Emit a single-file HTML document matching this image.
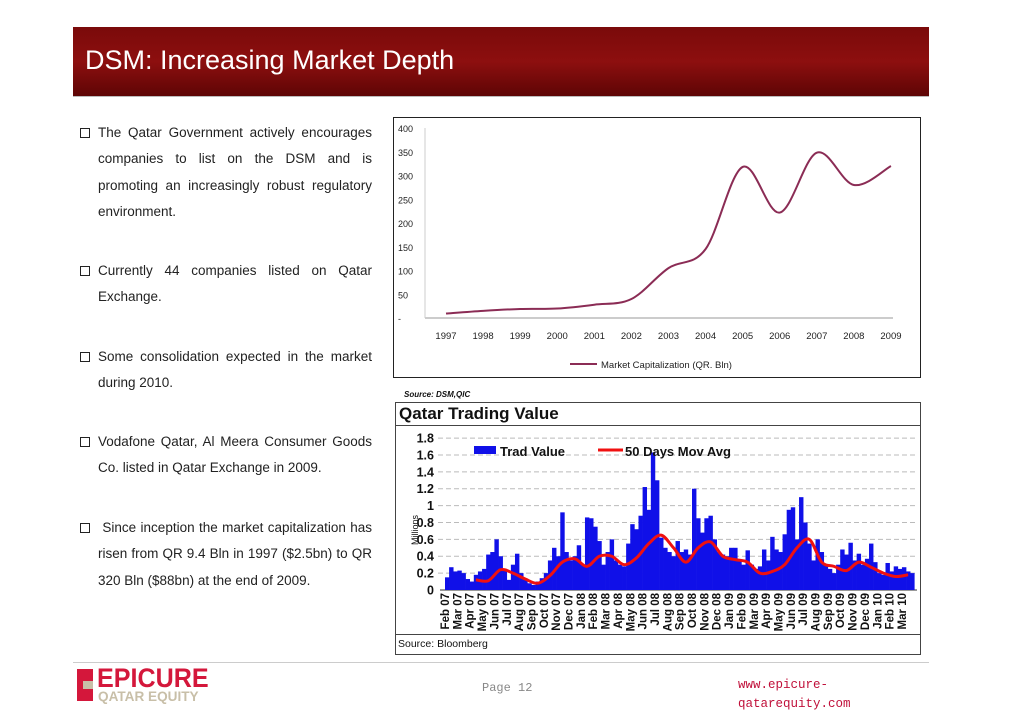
<!DOCTYPE html>
<html><head><meta charset="utf-8"><style>
body{margin:0;width:1023px;height:723px;background:#fff;position:relative;overflow:hidden;font-family:"Liberation Sans",sans-serif}
.abs{position:absolute}
.hdr{left:73px;top:27px;width:856px;height:69px;background:linear-gradient(180deg,#7a0a0a 0%,#8d0f0f 50%,#5e0505 100%)}
.hdr span{position:absolute;left:12px;top:18px;color:#fff;font-size:27px}
.bl{left:80px;width:292px;font-family:"Liberation Sans Narrow","Liberation Sans",sans-serif;font-size:13.5px;color:#222;line-height:26.3px}
.bl .cb{position:absolute;left:0;top:8px;width:8px;height:8px;border:1px solid #222}
.bl div.l{margin-left:18px;text-align:justify;text-align-last:justify;white-space:nowrap;height:26.3px}
.bl div.e{margin-left:18px;text-align:left;height:26.3px}
</style></head><body>
<div class="abs hdr"><span>DSM: Increasing Market Depth</span></div>
<div class="abs" style="left:73px;top:96px;width:856px;height:1px;background:#bbb"></div>

<div class="abs bl" style="top:120px"><div class="cb"></div><div class="l">The Qatar Government actively encourages</div><div class="l">companies to list on the DSM and is</div><div class="l">promoting an increasingly robust regulatory</div><div class="e">environment.</div></div>
<div class="abs bl" style="top:258px"><div class="cb"></div><div class="l">Currently 44 companies listed on Qatar</div><div class="e">Exchange.</div></div>
<div class="abs bl" style="top:344px"><div class="cb"></div><div class="l">Some consolidation expected in the market</div><div class="e">during 2010.</div></div>
<div class="abs bl" style="top:429px"><div class="cb"></div><div class="l">Vodafone Qatar, Al Meera Consumer Goods</div><div class="e">Co. listed in Qatar Exchange in 2009.</div></div>
<div class="abs bl" style="top:515px"><div class="cb"></div><div class="l">&nbsp;Since inception the market capitalization has</div><div class="l">risen from QR 9.4 Bln in 1997 ($2.5bn) to QR</div><div class="e">320 Bln ($88bn) at the end of 2009.</div></div>

<svg class="abs" style="left:0;top:0" width="1023" height="723">
<g id="top"></g>
<g id="bot"></g>
</svg>

<div class="abs" style="left:73px;top:662px;width:856px;height:1px;background:#ccc"></div>
<div class="abs" style="left:77px;top:669px;width:16px;height:32px;background:#d4173b"><div style="position:absolute;left:6px;top:12px;width:10px;height:8px;background:#c8bfa8"></div></div>
<div class="abs" style="left:97px;top:665px;font-size:27px;line-height:27px;font-weight:bold;color:#d4173b;transform:scaleX(0.93);transform-origin:left">EPICURE</div>
<div class="abs" style="left:98px;top:689px;font-size:14px;line-height:14px;font-weight:bold;color:#c8bfa8;transform:scaleX(0.97);transform-origin:left">QATAR EQUITY</div>
<div class="abs" style="left:482px;top:681px;font-family:'Liberation Mono',monospace;font-size:12px;color:#888">Page 12</div>
<div class="abs" style="left:738px;top:676px;font-family:'Liberation Mono',monospace;font-size:12.5px;color:#c0103a;line-height:19px">www.epicure-<br>qatarequity.com</div>

<script>
const NS="http://www.w3.org/2000/svg";
function mk(p,t,a,txt){const e=document.createElementNS(NS,t);for(const k in a)e.setAttribute(k,a[k]);if(txt!=null)e.textContent=txt;p.appendChild(e);return e;}

// ---- Top chart data ----
const capYears=["1997","1998","1999","2000","2001","2002","2003","2004","2005","2006","2007","2008","2009"];
const capValues=[9.4,15,19,20,28,40,105,145,318,222,348,280,320];
const capTicks=[0,50,100,150,200,250,300,350,400];

// ---- Bottom chart data ----
const tvMonths=["Feb 07","Mar 07","Apr 07","May 07","Jun 07","Jul 07","Aug 07","Sep 07","Oct 07","Nov 07","Dec 07","Jan 08","Feb 08","Mar 08","Apr 08","May 08","Jun 08","Jul 08","Aug 08","Sep 08","Oct 08","Nov 08","Dec 08","Jan 09","Feb 09","Mar 09","Apr 09","May 09","Jun 09","Jul 09","Aug 09","Sep 09","Oct 09","Nov 09","Dec 09","Jan 10","Feb 10","Mar 10"];
const tvValues=[0.15,0.27,0.22,0.23,0.2,0.13,0.1,0.18,0.22,0.25,0.42,0.45,0.6,0.4,0.25,0.12,0.3,0.43,0.2,0.12,0.08,0.06,0.1,0.14,0.2,0.35,0.5,0.4,0.92,0.45,0.35,0.4,0.53,0.3,0.86,0.85,0.75,0.58,0.3,0.45,0.6,0.35,0.3,0.28,0.55,0.78,0.72,0.88,1.22,0.95,1.63,1.3,0.62,0.5,0.45,0.4,0.58,0.45,0.48,0.42,1.2,0.85,0.68,0.85,0.88,0.6,0.45,0.42,0.4,0.5,0.5,0.35,0.3,0.47,0.3,0.25,0.28,0.48,0.35,0.63,0.48,0.45,0.66,0.95,0.98,0.6,1.1,0.8,0.55,0.35,0.6,0.45,0.3,0.25,0.2,0.3,0.48,0.42,0.56,0.35,0.43,0.3,0.37,0.55,0.33,0.2,0.18,0.32,0.22,0.28,0.25,0.27,0.22,0.2];
const maValues=[0.12,0.11,0.24,0.2,0.13,0.08,0.17,0.33,0.37,0.28,0.4,0.4,0.3,0.38,0.55,0.65,0.5,0.33,0.5,0.57,0.4,0.36,0.33,0.2,0.22,0.3,0.5,0.6,0.33,0.28,0.23,0.33,0.27,0.2,0.16,0.18];
const maStart=2; // MA begins at Apr 07
const tvTicks=["0","0.2","0.4","0.6","0.8","1","1.2","1.4","1.6","1.8"];

function smooth(pts){let d="M"+pts[0][0]+","+pts[0][1];for(let i=0;i<pts.length-1;i++){const p0=pts[Math.max(0,i-1)],p1=pts[i],p2=pts[i+1],p3=pts[Math.min(pts.length-1,i+2)];const c1=[p1[0]+(p2[0]-p0[0])/6,p1[1]+(p2[1]-p0[1])/6],c2=[p2[0]-(p3[0]-p1[0])/6,p2[1]-(p3[1]-p1[1])/6];d+=" C"+c1+" "+c2+" "+p2;}return d;}

// Top chart
(function(){
const g=document.getElementById('top');
mk(g,'rect',{x:393.5,y:117.5,width:527,height:260,fill:'#fff',stroke:'#222','stroke-width':1});
const y=v=>318-v*0.475, x=i=>446+i*37.08;
mk(g,'line',{x1:425,y1:318,x2:893,y2:318,stroke:'#999'});
mk(g,'line',{x1:425,y1:128,x2:425,y2:318,stroke:'#ccc'});
capTicks.forEach(t=>{const e=mk(g,'text',{x:398,y:y(t)+4,'font-size':9,fill:'#222'},t===0?'-':String(t));});
capYears.forEach((yr,i)=>{const e=mk(g,'text',{x:x(i),y:339,'font-size':9.5,'text-anchor':'middle',fill:'#222'},yr);});
const p=mk(g,'path',{d:smooth(capValues.map((v,i)=>[x(i),y(v)])),fill:'none',stroke:'#8b2c55','stroke-width':2});

mk(g,'line',{x1:570,y1:364,x2:597,y2:364,stroke:'#8b2c55','stroke-width':2});
const l=mk(g,'text',{x:601,y:368,'font-size':9.5,fill:'#222'},'Market Capitalization (QR. Bln)');

const s=mk(g,'text',{x:404,y:397,'font-size':8,'font-weight':'bold','font-style':'italic',fill:'#111'},'Source: DSM,QIC');

})();

// Bottom chart
(function(){
const g=document.getElementById('bot');
mk(g,'rect',{x:395.5,y:402.5,width:525,height:252,fill:'#fff',stroke:'#444'});
mk(g,'line',{x1:396,y1:425.5,x2:921,y2:425.5,stroke:'#444'});
mk(g,'line',{x1:396,y1:634.5,x2:921,y2:634.5,stroke:'#444'});
const t=mk(g,'text',{x:399,y:419,'font-size':17,'font-weight':'bold',fill:'#111'},'Qatar Trading Value');

const y0=590,sc=84.4,y=v=>y0-v*sc;
const x0=445,mw=12.35,mx=m=>x0+m*mw;
tvTicks.forEach(tk=>{const v=parseFloat(tk);if(v>0)mk(g,'line',{x1:438,y1:y(v),x2:917,y2:y(v),stroke:'#bbb','stroke-dasharray':'5,3'});
const e=mk(g,'text',{x:434,y:y(v)+4.5,'font-size':12.5,'font-weight':'bold','text-anchor':'end',fill:'#111'},tk);});
mk(g,'line',{x1:440,y1:y0,x2:917,y2:y0,stroke:'#333'});
const n=tvValues.length,bw=(mx(tvMonths.length)-x0)/n;
tvValues.forEach((v,i)=>{const r=mk(g,'rect',{x:x0+i*bw,y:y(v),width:bw+0.3,height:v*sc,fill:'#1010e8'});});
const p=mk(g,'path',{d:smooth(maValues.map((v,i)=>[mx(i+maStart)+mw/2,y(v)])),fill:'none',stroke:'#f01010','stroke-width':3});

tvMonths.forEach((m,i)=>{const cx=mx(i)+4;const e=mk(g,'text',{x:cx,y:593,'font-size':11.5,'font-weight':'bold','text-anchor':'end',fill:'#111',transform:`rotate(-90 ${cx} 593)`},m);});
const u=mk(g,'text',{x:418,y:530,'font-size':9,'text-anchor':'middle',fill:'#111',transform:'rotate(-90 418 530)'},'Millions');

mk(g,'rect',{x:474,y:446,width:22,height:8,fill:'#1010e8'});
const l1=mk(g,'text',{x:500,y:456,'font-size':13,'font-weight':'bold',fill:'#111'},'Trad Value');
mk(g,'line',{x1:598,y1:450,x2:623,y2:450,stroke:'#f01010','stroke-width':3});
const l2=mk(g,'text',{x:625,y:456,'font-size':13,'font-weight':'bold',fill:'#111'},'50 Days Mov Avg');
const s=mk(g,'text',{x:398,y:647,'font-size':10.5,fill:'#111'},'Source: Bloomberg');
})();
</script>
</body></html>
